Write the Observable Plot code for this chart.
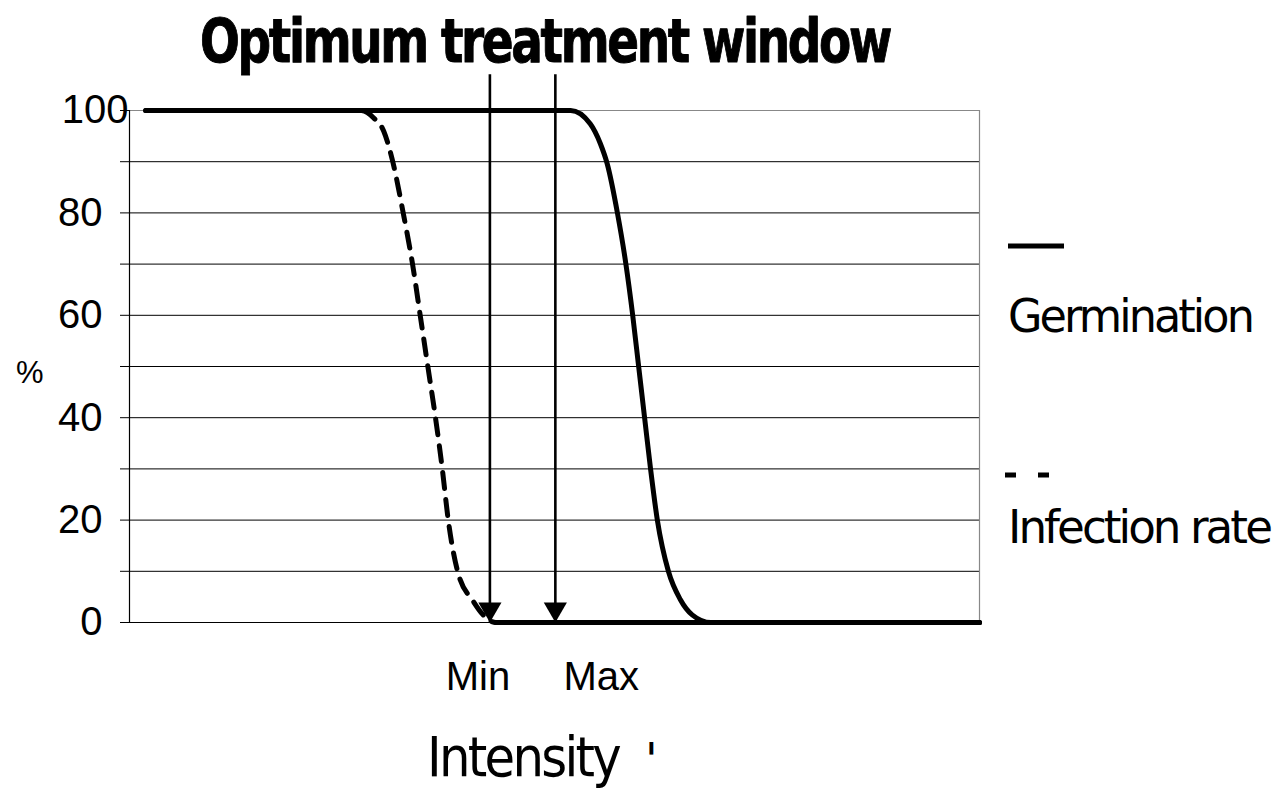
<!DOCTYPE html>
<html>
<head>
<meta charset="utf-8">
<script src="https://cdn.jsdelivr.net/npm/d3@7"></script>
<script src="https://cdn.jsdelivr.net/npm/@observablehq/plot@0.6"></script>
<style>
html, body { margin: 0; padding: 0; background: #fff; overflow: hidden; }
#chart svg { display: block; }
</style>
</head>
<body>
<div id="chart"></div>
<script>
// ---- Data ----
// Intensity on an arbitrary 0–100 scale across the plot area
const germIntensity = [1.9, 50.1, 51.9, 54.2, 55.4, 56.2, 57.4, 58.4, 59.2, 59.9, 60.6, 61.3, 62.1, 63.4, 64.8, 66.2, 68.4, 100];
const germPercent   = [100, 100, 100, 97.4, 93.5, 89.6, 80, 70, 60, 50, 40, 30, 20, 10, 4.5, 1.5, 0, 0];

const infIntensity = [1.9, 27.2, 28.7, 29.9, 30.9, 32.2, 33.3, 34.2, 35.1, 36.0, 36.8, 37.5, 38.6, 40.5, 41.6, 43.1, 100];
const infPercent   = [100, 100, 98.6, 96, 90.5, 80, 70, 60, 50, 40, 30, 20, 10, 4, 1.5, 0, 0];

const seriesNames = ["Germination", "Infection rate"];

const yTickValues = [0, 10, 20, 30, 40, 50, 60, 70, 80, 90, 100];
const yLabelValues = [0, 20, 40, 60, 80];
const yTopLabel = [100];
const gridValues = [10, 20, 30, 40, 50, 60, 70, 80, 90];

const windowIntensity = [42.4, 50.1];      // Min / Max arrows
const windowArrowTop = 107;                 // arrows start above the 100% line
const windowLabels = ["Min", "Max"];
const windowLabelIntensity = [41.0, 55.5];

const titleText = "Optimum treatment window";
const xLabelText = "Intensity";
const yLabelText = "%";

const germData = germIntensity.map((x, i) => ({x, y: germPercent[i]}));
const infData = infIntensity.map((x, i) => ({x, y: infPercent[i]}));
const infFloor = infData.filter(d => d.y === 0);
const labelData = windowLabels.map((t, i) => ({t, x: windowLabelIntensity[i]}));

const ARIAL = "'Liberation Sans', Arial, sans-serif";
const TAHOMA = "'DejaVu Sans', Verdana, sans-serif";

const chart = Plot.plot({
  width: 1278,
  height: 789,
  marginLeft: 129,
  marginRight: 299,
  marginTop: 110,
  marginBottom: 167,
  x: {domain: [0, 100], axis: null},
  y: {domain: [0, 100], axis: null},
  style: {fontFamily: ARIAL, background: "#fff", color: "#000"},
  marks: [
    Plot.ruleY(gridValues, {stroke: "#000", strokeWidth: 1}),
    Plot.ruleY([100], {stroke: "#888", strokeWidth: 1.2}),
    Plot.ruleX([100], {stroke: "#888", strokeWidth: 1.2}),
    Plot.ruleY([0], {stroke: "#000", strokeWidth: 1.2}),
    Plot.ruleX([0], {stroke: "#000", strokeWidth: 1.2}),
    Plot.axisY(yTickValues, {
      anchor: "left", tickSize: 9, tickPadding: 18, fontSize: 40,
      tickFormat: d => yLabelValues.includes(d) ? String(d) : "",
      label: null
    }),
    Plot.axisY(yTopLabel, {anchor: "left", tickSize: 0, tickPadding: 1, fontSize: 40, label: null}),
    Plot.line(infData, {x: "x", y: "y", stroke: "#000", strokeWidth: 5, strokeDasharray: "16,11", curve: "monotone-x"}),
    Plot.line(infFloor, {x: "x", y: "y", stroke: "#000", strokeWidth: 5}),
    Plot.line(germData, {x: "x", y: "y", stroke: "#000", strokeWidth: 5, curve: "monotone-x"}),
    Plot.ruleX(windowIntensity, {x: d => d, y1: 0, y2: windowArrowTop, stroke: "#000", strokeWidth: 2.6}),
    Plot.dot(windowIntensity, {x: d => d, y: 0, symbol: "triangle", r: 8.6, rotate: 180, fill: "#000", stroke: "none", dy: -13.3}),
    Plot.text(labelData, {x: "x", y: 0, text: "t", dy: 55, fontSize: 40, fill: "#000"})
  ]
});
document.getElementById("chart").appendChild(chart);

// ---- Overlay text: title, axis labels, legend ----
const svg = d3.select(chart);
function addText(str, o) {
  const t = svg.append("text")
    .attr("x", o.x).attr("y", o.y)
    .style("font-family", o.family)
    .style("font-size", o.size + "px")
    .style("font-weight", o.weight || "normal")
    .style("letter-spacing", (o.spacing || 0) + "px")
    .attr("text-anchor", o.anchor || "start")
    .attr("fill", "#000")
    .text(str);
  if (o.stroke) t.attr("stroke", "#000").attr("stroke-width", o.stroke).attr("stroke-linejoin", "round");
  if (o.width) t.attr("textLength", o.width).attr("lengthAdjust", "spacingAndGlyphs");
  return t;
}
addText(titleText, {x: 200, y: 62, size: 60, weight: "bold", family: TAHOMA, width: 690, stroke: 1, spacing: -3});
addText(xLabelText, {x: 427, y: 776, size: 55, family: TAHOMA, width: 192, spacing: -3});
addText("'", {x: 645, y: 776, size: 46, family: TAHOMA});
addText(yLabelText, {x: 16, y: 383, size: 31, family: ARIAL});

// Legend
svg.append("line").attr("x1", 1008).attr("x2", 1064).attr("y1", 246).attr("y2", 246)
  .attr("stroke", "#000").attr("stroke-width", 5);
addText(seriesNames[0], {x: 1008, y: 332, size: 46, family: TAHOMA, width: 244, spacing: -3});
svg.append("line").attr("x1", 1005).attr("x2", 1049).attr("y1", 475).attr("y2", 475)
  .attr("stroke", "#000").attr("stroke-width", 5).attr("stroke-dasharray", "11,22");
addText(seriesNames[1], {x: 1008, y: 543, size: 46, family: TAHOMA, width: 262, spacing: -3});
</script>
</body>
</html>
